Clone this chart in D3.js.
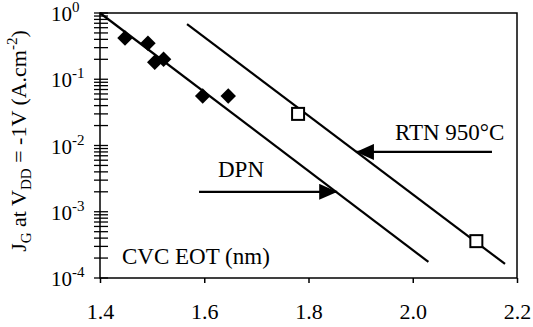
<!DOCTYPE html>
<html>
<head>
<meta charset="utf-8">
<script src="https://cdn.jsdelivr.net/npm/d3@7"></script>
<style>
  body { margin: 0; background: #fff; }
  svg text { font-family: "Liberation Serif", "Times New Roman", serif; fill: #000; }
</style>
</head>
<body>
<div class="chart"></div>
<script>
// measured data (DPN = filled diamonds, RTN 950C = open squares)
var dpnEot = [1.448, 1.492, 1.505, 1.522, 1.597, 1.646];
var dpnJg = [0.42, 0.35, 0.18, 0.20, 0.056, 0.056];
var rtnEot = [1.78, 2.122];
var rtnJg = [0.030, 0.00036];

// fitted trend lines (end points)
var dpnFitEot = [1.40, 2.03];
var dpnFitJg = [1.0, 1.75e-4];
var rtnFitEot = [1.567, 2.177];
var rtnFitJg = [0.68, 1.63e-4];

// annotation arrows: tail -> head
var dpnArrowEot = [1.590, 1.855];
var dpnArrowJg = 2.0e-3;
var rtnArrowEot = [2.152, 1.891];
var rtnArrowJg = 8.0e-3;

var xTicks = [1.4, 1.6, 1.8, 2.0, 2.2];
var yExponents = [0, -1, -2, -3, -4];

var serif = "Liberation Serif, Times New Roman, serif";

var svgWidth = 533;
var svgHeight = 327;
var margin = { top: 13, right: 16, bottom: 49, left: 100 };
var width = svgWidth - margin.left - margin.right;
var height = svgHeight - margin.top - margin.bottom;

var svg = d3.select(".chart")
    .append("svg")
    .attr("width", svgWidth)
    .attr("height", svgHeight)
    .attr("font-family", serif);

var chart = svg.append("g")
    .attr("transform", `translate(${margin.left},${margin.top})`);

var xScale = d3.scaleLinear().domain([1.4, 2.2]).range([0, width]);
var yScale = d3.scaleLog().domain([1e-4, 1]).range([height, 0]);

// frame
chart.append("rect")
    .attr("width", width)
    .attr("height", height)
    .attr("fill", "none")
    .attr("stroke", "#000")
    .attr("stroke-width", 1.5);

// x axis: short ticks, labels well below
var xAxis = d3.axisBottom(xScale)
    .tickValues(xTicks)
    .tickSize(5)
    .tickPadding(20)
    .tickFormat(d3.format(".1f"));

var gx = chart.append("g")
    .attr("transform", `translate(0,${height})`)
    .call(xAxis)
    .attr("font-family", serif);
gx.select(".domain").remove();
gx.selectAll("line").attr("stroke", "#000").attr("stroke-width", 1.5);
gx.selectAll("text").attr("font-size", "22px");

// y axis minor ticks (crossing the axis)
var minorTicks = [];
yExponents.forEach(function (e) {
    if (e === -4) return;
    for (var m = 2; m <= 9; m++) minorTicks.push(m * Math.pow(10, e - 1));
});
chart.selectAll(".ytick")
    .data(minorTicks.concat(yExponents.map(function (e) { return Math.pow(10, e); })))
    .enter()
    .append("line")
    .attr("class", "ytick")
    .attr("x1", -6)
    .attr("x2", 8)
    .attr("y1", function (d) { return yScale(d); })
    .attr("y2", function (d) { return yScale(d); })
    .attr("stroke", "#000")
    .attr("stroke-width", 1.3);

// y tick labels 10^n
var yLab = chart.selectAll(".ylab")
    .data(yExponents)
    .enter()
    .append("text")
    .attr("class", "ylab")
    .attr("x", -49)
    .attr("y", function (e) { return yScale(Math.pow(10, e)) + 8; })
    .attr("font-size", "21px");
yLab.append("tspan").text("10");
yLab.append("tspan")
    .attr("dy", -9)
    .attr("font-size", "15px")
    .text(function (e) { return e === 0 ? "0" : "-" + (-e); });

// fitted lines
var line = d3.line()
    .x(function (d) { return xScale(d[0]); })
    .y(function (d) { return yScale(d[1]); });

chart.append("path")
    .datum(d3.zip(dpnFitEot, dpnFitJg))
    .attr("d", line)
    .attr("fill", "none")
    .attr("stroke", "#000")
    .attr("stroke-width", 2.2);

chart.append("path")
    .datum(d3.zip(rtnFitEot, rtnFitJg))
    .attr("d", line)
    .attr("fill", "none")
    .attr("stroke", "#000")
    .attr("stroke-width", 2.2);

// DPN diamonds
var diamond = d3.symbol().type(d3.symbolSquare).size(120);
chart.selectAll(".dpn")
    .data(d3.zip(dpnEot, dpnJg))
    .enter()
    .append("path")
    .attr("class", "dpn")
    .attr("d", diamond)
    .attr("transform", function (d) {
        return `translate(${xScale(d[0])},${yScale(d[1])}) rotate(45)`;
    })
    .attr("fill", "#000");

// RTN squares
chart.selectAll(".rtn")
    .data(d3.zip(rtnEot, rtnJg))
    .enter()
    .append("rect")
    .attr("class", "rtn")
    .attr("x", function (d) { return xScale(d[0]) - 6; })
    .attr("y", function (d) { return yScale(d[1]) - 6; })
    .attr("width", 12)
    .attr("height", 12)
    .attr("fill", "#fff")
    .attr("stroke", "#000")
    .attr("stroke-width", 2);

// arrows
svg.append("defs").append("marker")
    .attr("id", "head")
    .attr("viewBox", "0 0 18 16")
    .attr("refX", 18)
    .attr("refY", 8)
    .attr("markerWidth", 18)
    .attr("markerHeight", 16)
    .attr("markerUnits", "userSpaceOnUse")
    .attr("orient", "auto")
    .append("path")
    .attr("d", "M0,0L18,8L0,16Z")
    .attr("fill", "#000");

function arrow(xs, y) {
    chart.append("line")
        .attr("x1", xScale(xs[0]))
        .attr("x2", xScale(xs[1]))
        .attr("y1", yScale(y))
        .attr("y2", yScale(y))
        .attr("stroke", "#000")
        .attr("stroke-width", 2.2)
        .attr("marker-end", "url(#head)");
}
arrow(dpnArrowEot, dpnArrowJg);
arrow(rtnArrowEot, rtnArrowJg);

// annotations
chart.append("text")
    .attr("x", 295)
    .attr("y", 127)
    .attr("font-size", "23px")
    .text("RTN 950°C");

chart.append("text")
    .attr("x", 118)
    .attr("y", 164)
    .attr("font-size", "23px")
    .text("DPN");

chart.append("text")
    .attr("x", 22)
    .attr("y", 251)
    .attr("font-size", "23px")
    .text("CVC EOT (nm)");

// y axis title
var yTitle = svg.append("text")
    .attr("transform", "translate(26,141) rotate(-90)")
    .attr("text-anchor", "middle")
    .attr("font-size", "22px");
yTitle.append("tspan").text("J");
yTitle.append("tspan").attr("dy", 5).attr("font-size", "15px").text("G");
yTitle.append("tspan").attr("dy", -5).text(" at V");
yTitle.append("tspan").attr("dy", 5).attr("font-size", "15px").text("DD");
yTitle.append("tspan").attr("dy", -5).text(" = -1V (A.cm");
yTitle.append("tspan").attr("dy", -9).attr("font-size", "15px").text("-2");
yTitle.append("tspan").attr("dy", 9).text(")");
</script>
</body>
</html>
